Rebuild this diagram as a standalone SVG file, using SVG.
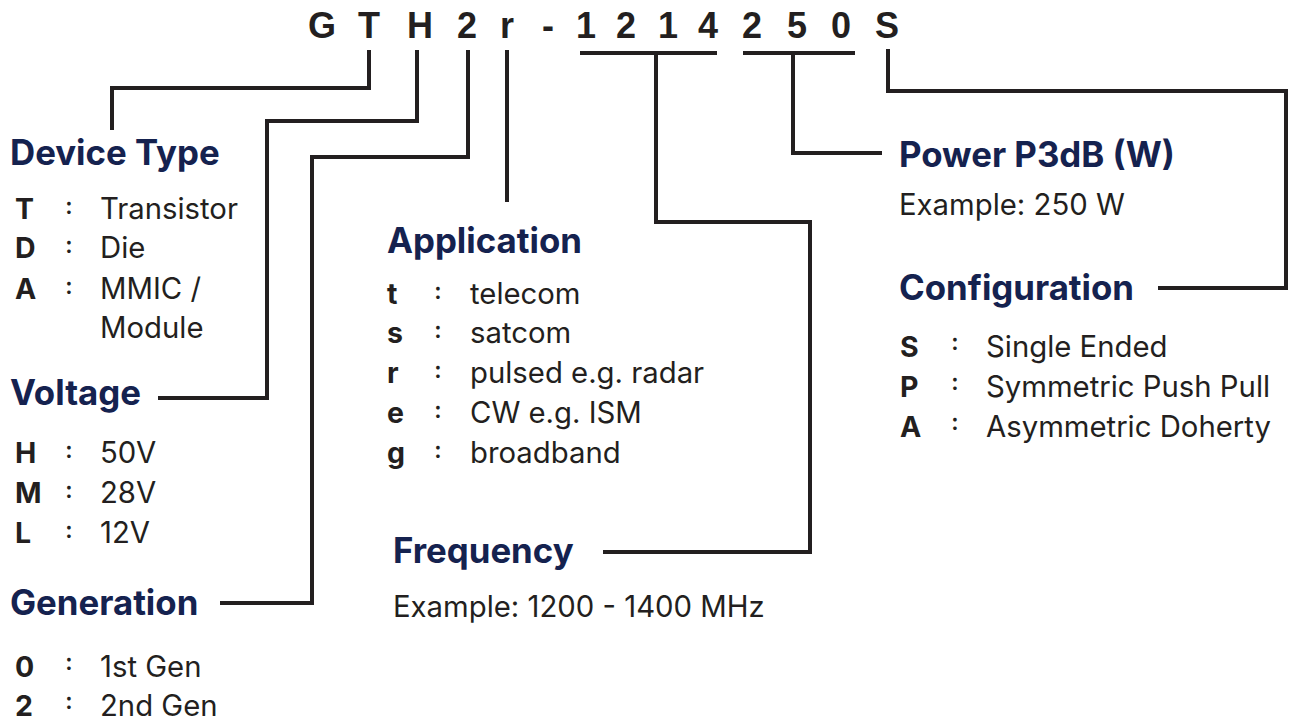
<svg xmlns="http://www.w3.org/2000/svg" width="1289" height="722" viewBox="0 0 1289 722">
<style>
.code{font-family:"Liberation Sans",Arial,sans-serif;font-weight:700;font-size:36px;fill:#231f20}
.h{font-family:Inter,"Liberation Sans",sans-serif;font-weight:700;font-size:34.8px;fill:#15224f}
.k{font-family:Inter,"Liberation Sans",sans-serif;font-weight:700;font-size:28.5px;fill:#231f20}
.v{font-family:Inter,"Liberation Sans",sans-serif;font-weight:400;font-size:29.3px;fill:#231f20}
.c{font-family:Inter,"Liberation Sans",sans-serif;font-weight:600;font-size:23px;fill:#231f20;text-anchor:middle}
.ln{fill:none;stroke:#231f20;stroke-width:4;stroke-linejoin:miter;stroke-linecap:butt}
</style>
<rect width="1289" height="722" fill="#ffffff"/>
<g id="code">
<text class="code" y="38" text-anchor="middle" x="322 369 420 467 507 548 586 626 668 708 752 797 841 887">GTH2r-1214250S</text>
</g>
<g id="connectors">
<path class="ln" d="M369,50 V88 H112 V130"/>
<path class="ln" d="M417,50 V121 H267 V398 H158"/>
<path class="ln" d="M468,50 V157 H312 V603 H220"/>
<path class="ln" d="M507,50 V202"/>
<path class="ln" d="M580,53 H717 M656,53 V222 H810 V552 H603"/>
<path class="ln" d="M743,53 H855 M793,53 V153 H882"/>
<path class="ln" d="M888,49 V91 H1286 V288 H1158"/>
</g>
<g id="device-type">
<text class="h" x="10" y="165">Device Type</text>
<text class="k" x="15" y="219">T</text><text class="c" x="69" y="214">:</text><text class="v" x="100" y="219">Transistor</text>
<text class="k" x="15" y="258">D</text><text class="c" x="69" y="253">:</text><text class="v" x="100" y="258">Die</text>
<text class="k" x="15" y="299">A</text><text class="c" x="69" y="294">:</text><text class="v" x="100" y="299">MMIC /</text>
<text class="v" x="100" y="338">Module</text>
</g>
<g id="voltage">
<text class="h" x="10" y="405">Voltage</text>
<text class="k" x="15" y="463">H</text><text class="c" x="69" y="458">:</text><text class="v" x="100" y="463">50V</text>
<text class="k" x="15" y="503">M</text><text class="c" x="69" y="498">:</text><text class="v" x="100" y="503">28V</text>
<text class="k" x="15" y="543">L</text><text class="c" x="69" y="538">:</text><text class="v" x="100" y="543">12V</text>
</g>
<g id="generation">
<text class="h" x="10" y="615">Generation</text>
<text class="k" x="15" y="677">0</text><text class="c" x="69" y="670">:</text><text class="v" x="100" y="677">1st Gen</text>
<text class="k" x="15" y="716">2</text><text class="c" x="69" y="709">:</text><text class="v" x="100" y="716">2nd Gen</text>
</g>
<g id="application">
<text class="h" x="387" y="253">Application</text>
<text class="k" x="387" y="304">t</text><text class="c" x="438" y="299">:</text><text class="v" x="470" y="304">telecom</text>
<text class="k" x="387" y="343">s</text><text class="c" x="438" y="338">:</text><text class="v" x="470" y="343">satcom</text>
<text class="k" x="387" y="383">r</text><text class="c" x="438" y="378">:</text><text class="v" x="470" y="383">pulsed e.g. radar</text>
<text class="k" x="387" y="423">e</text><text class="c" x="438" y="418">:</text><text class="v" x="470" y="423">CW e.g. ISM</text>
<text class="k" x="387" y="463">g</text><text class="c" x="438" y="458">:</text><text class="v" x="470" y="463">broadband</text>
</g>
<g id="frequency">
<text class="h" x="393" y="563">Frequency</text>
<text class="v" x="393" y="617">Example: 1200 - 1400 MHz</text>
</g>
<g id="power">
<text class="h" x="899" y="167">Power P3dB (W)</text>
<text class="v" x="899" y="215">Example: 250 W</text>
</g>
<g id="configuration">
<text class="h" x="899" y="300">Configuration</text>
<text class="k" x="900" y="357">S</text><text class="c" x="955" y="350">:</text><text class="v" x="986" y="357">Single Ended</text>
<text class="k" x="900" y="397">P</text><text class="c" x="955" y="390">:</text><text class="v" x="986" y="397">Symmetric Push Pull</text>
<text class="k" x="900" y="437">A</text><text class="c" x="955" y="430">:</text><text class="v" x="986" y="437">Asymmetric Doherty</text>
</g>
</svg>
